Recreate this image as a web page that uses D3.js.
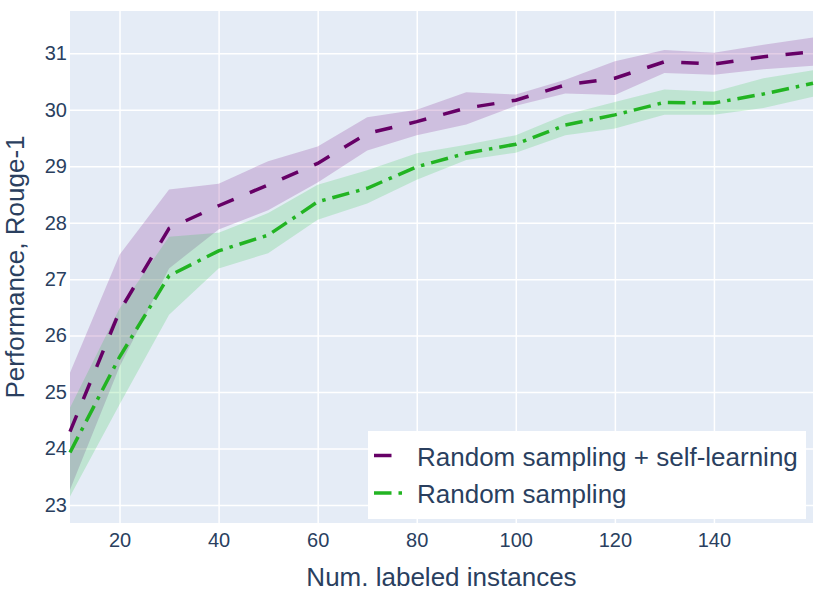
<!DOCTYPE html>
<html>
<head>
<meta charset="utf-8">
<script src="https://cdn.jsdelivr.net/npm/d3@7"></script>
<style>
  body { margin: 0; background: #fff; }
  text { font-family: "Liberation Sans", Arial, sans-serif; fill: #2a3f5f; }
</style>
</head>
<body>
<script>
const w = 831,
	h = 593;

// labeled instances
const xs = [10, 20, 30, 40, 50, 60, 70, 80, 90, 100, 110, 120, 130, 140, 150, 160];

// random sampling + self-learning
const selfMean  = [24.30, 26.43, 27.90, 28.30, 28.67, 29.05, 29.58, 29.79, 30.03, 30.17, 30.44, 30.56, 30.85, 30.81, 30.94, 31.03];
const selfUpper = [25.34, 27.43, 28.59, 28.69, 29.09, 29.35, 29.87, 30.00, 30.31, 30.27, 30.53, 30.86, 31.06, 31.01, 31.15, 31.28];
const selfLower = [23.27, 25.45, 27.19, 27.88, 28.22, 28.71, 29.28, 29.55, 29.74, 30.07, 30.29, 30.26, 30.65, 30.62, 30.72, 30.78];

// random sampling
const randMean  = [23.93, 25.62, 27.06, 27.50, 27.78, 28.37, 28.61, 28.99, 29.23, 29.39, 29.73, 29.91, 30.13, 30.12, 30.28, 30.47];
const randUpper = [24.72, 26.48, 27.75, 27.82, 28.17, 28.67, 28.93, 29.23, 29.38, 29.55, 29.91, 30.14, 30.36, 30.32, 30.56, 30.70];
const randLower = [23.15, 24.78, 26.37, 27.19, 27.46, 28.05, 28.34, 28.76, 29.11, 29.24, 29.55, 29.67, 29.91, 29.91, 30.03, 30.23];

const xTicks = [20, 40, 60, 80, 100, 120, 140];
const yTicks = [23, 24, 25, 26, 27, 28, 29, 30, 31];
const seriesNames = ['Random sampling + self-learning', 'Random sampling'];

const m = {left: 70, top: 11, right: 18, bottom: 70};

const svg = d3.select('body')
	.append('svg')
	.attr('width', w)
	.attr('height', h);

const x = d3.scaleLinear().domain([10, 160]).range([m.left, w - m.right]);
const y = d3.scaleLinear().domain([22.68, 31.75]).range([h - m.bottom, m.top]);

//plot background
svg.append('rect')
	.attr('x', m.left)
	.attr('y', m.top)
	.attr('width', w - m.left - m.right)
	.attr('height', h - m.top - m.bottom)
	.attr('fill', '#e5ecf6');

//grid lines
svg.append('g')
	.attr('transform', `translate(0,${h - m.bottom})`)
	.call(d3.axisBottom(x).tickValues(xTicks).tickSize(-(h - m.top - m.bottom)).tickFormat(''))
	.call(g => g.select('.domain').remove())
	.call(g => g.selectAll('line').attr('stroke', '#fff').attr('stroke-width', 1.5));

svg.append('g')
	.attr('transform', `translate(${m.left},0)`)
	.call(d3.axisLeft(y).tickValues(yTicks).tickSize(-(w - m.left - m.right)).tickFormat(''))
	.call(g => g.select('.domain').remove())
	.call(g => g.selectAll('line').attr('stroke', '#fff').attr('stroke-width', 1.5));

//tick labels
svg.append('g')
	.attr('transform', `translate(0,${h - m.bottom})`)
	.call(d3.axisBottom(x).tickValues(xTicks).tickSize(0).tickPadding(10))
	.call(g => g.select('.domain').remove())
	.call(g => g.selectAll('text').attr('font-size', 20).attr('font-family', null).attr('dy', '0.72em'));

svg.append('g')
	.attr('transform', `translate(${m.left},0)`)
	.call(d3.axisLeft(y).tickValues(yTicks).tickSize(0).tickPadding(3))
	.call(g => g.select('.domain').remove())
	.call(g => g.selectAll('text').attr('font-size', 20).attr('font-family', null));

//axis titles
svg.append('text')
	.attr('x', (m.left + w - m.right) / 2)
	.attr('y', 586)
	.attr('text-anchor', 'middle')
	.attr('font-size', 26)
	.text('Num. labeled instances');

svg.append('text')
	.attr('transform', `translate(24,${(m.top + h - m.bottom) / 2}) rotate(-90)`)
	.attr('text-anchor', 'middle')
	.attr('font-size', 26)
	.text('Performance, Rouge-1');

const series = [
	{name: seriesNames[0], mean: selfMean, up: selfUpper, lo: selfLower,
		line: '#660066', fill: 'rgba(128,30,140,0.22)', dash: '17.5,17.5'},
	{name: seriesNames[1], mean: randMean, up: randUpper, lo: randLower,
		line: '#22b422', fill: 'rgba(40,200,70,0.2)', dash: '17.5,7,3.5,7'}
];

const area = d3.area()
	.x((d) => x(d.x))
	.y0((d) => y(d.lo))
	.y1((d) => y(d.up));

const line = d3.line()
	.x((d) => x(d.x))
	.y((d) => y(d.v));

const plot = svg.append('g');

series.forEach((s) => {
	const pts = xs.map((v, i) => ({x: v, lo: s.lo[i], up: s.up[i]}));
	plot.append('path')
		.attr('d', area(pts))
		.attr('fill', s.fill);
});

series.forEach((s) => {
	const pts = xs.map((v, i) => ({x: v, v: s.mean[i]}));
	plot.append('path')
		.attr('d', line(pts))
		.attr('fill', 'none')
		.attr('stroke', s.line)
		.attr('stroke-width', 3.5)
		.attr('stroke-dasharray', s.dash);
});

//legend
const legend = svg.append('g');
legend.append('rect')
	.attr('x', 368)
	.attr('y', 431)
	.attr('width', 438)
	.attr('height', 88)
	.attr('fill', '#fff');

series.forEach((s, i) => {
	const ly = 455.5 + i * 37.5;
	legend.append('line')
		.attr('x1', 374)
		.attr('x2', 404)
		.attr('y1', ly)
		.attr('y2', ly)
		.attr('stroke', s.line)
		.attr('stroke-width', 3.5)
		.attr('stroke-dasharray', s.dash);
	legend.append('text')
		.attr('x', 417)
		.attr('y', ly + 10)
		.attr('font-size', 26)
		.text(s.name);
});
</script>
</body>
</html>
